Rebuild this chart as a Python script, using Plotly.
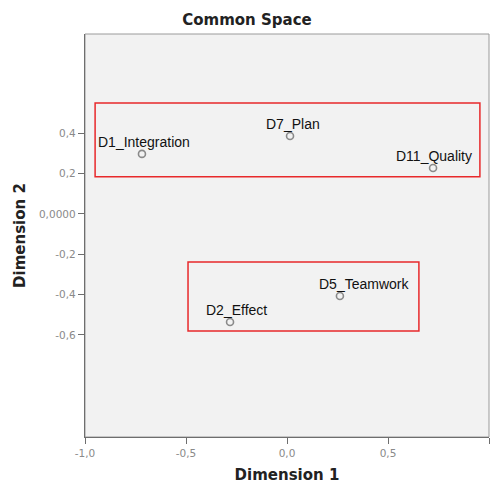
import plotly.graph_objects as go

labels = ["D1_Integration", "D7_Plan", "D11_Quality", "D5_Teamwork", "D2_Effect"]
dim1 = [-0.718, 0.015, 0.723, 0.262, -0.282]
dim2 = [0.298, 0.387, 0.228, -0.407, -0.536]
label_xshift = [2, 3, 1, 24, 6]

x_tickvals = [-1.0, -0.5, 0.0, 0.5, 1.0]
x_ticktext = ["-1,0", "-0,5", "0,0", "0,5", "1,0"]
y_tickvals = [0.4, 0.2, 0.0, -0.2, -0.4, -0.6]
y_ticktext = ["0,4", "0,2", "0,0000", "-0,2", "-0,4", "-0,6"]

# highlight boxes (x0, x1, y0, y1) in data units
box_x0 = [-0.95, -0.49]
box_x1 = [0.955, 0.653]
box_y0 = [0.184, -0.581]
box_y1 = [0.551, -0.238]

fig = go.Figure()
fig.add_trace(go.Scatter(
    x=dim1, y=dim2, mode="markers",
    marker=dict(symbol="circle-open", size=7, color="#8a8a8a", line=dict(width=1.6)),
    hoverinfo="text", text=labels, showlegend=False,
))

for lab, xv, yv, xs in zip(labels, dim1, dim2, label_xshift):
    fig.add_annotation(x=xv, y=yv, text=lab, showarrow=False, xanchor="center",
                       yanchor="bottom", yshift=2, xshift=xs,
                       font=dict(family="Liberation Sans, Arial", size=14, color="#111111"))

for x0, x1, y0, y1 in zip(box_x0, box_x1, box_y0, box_y1):
    fig.add_shape(type="rect", x0=x0, x1=x1, y0=y0, y1=y1, xref="x", yref="y",
                  line=dict(color="#e8292b", width=1.5), fillcolor="rgba(0,0,0,0)")

axis_common = dict(showgrid=False, zeroline=False, showline=True, linecolor="#6e6e6e",
                   linewidth=1.4, ticks="outside", ticklen=6, tickcolor="#6e6e6e",
                   automargin=False,
                   tickfont=dict(family="DejaVu Sans", size=10.5, color="#8a8a8a"))

fig.update_xaxes(range=[-1.0, 1.0], tickvals=x_tickvals, ticktext=x_ticktext,
                 title=dict(text="<b>Dimension 1</b>", standoff=14,
                            font=dict(family="DejaVu Sans", size=15, color="#222222")),
                 **axis_common)
fig.update_yaxes(range=[-1.107, 0.893], tickvals=y_tickvals, ticktext=y_ticktext,
                 title=dict(text="<b>Dimension 2</b>", standoff=9,
                            font=dict(family="DejaVu Sans", size=15, color="#222222")),
                 **axis_common)

fig.add_shape(type="rect", xref="paper", yref="paper", x0=0, x1=1, y0=0, y1=1,
              line=dict(color="#9a9a9a", width=1), layer="below")

W, H = 490, 484
fig.update_layout(
    width=W, height=H,
    margin=dict(l=85, r=1, t=34, b=47),
    paper_bgcolor="white", plot_bgcolor="#f2f2f2",
    title=dict(text="<b>Common Space</b>", x=247 / W, xanchor="center", y=1 - 20 / H,
               yanchor="middle", font=dict(family="DejaVu Sans", size=15, color="#222222")),
)

fig.write_html("out.html", config={"displayModeBar": False},
               post_script="document.body.style.margin='0';document.body.style.overflow='hidden';")
